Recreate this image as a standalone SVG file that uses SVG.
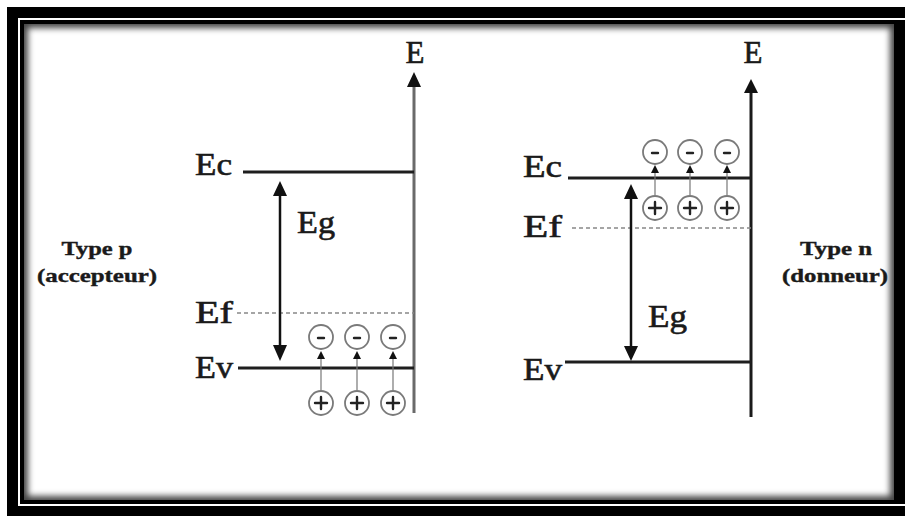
<svg xmlns="http://www.w3.org/2000/svg" width="905" height="516" viewBox="0 0 905 516">
  <style>
    .lbl { font-family: "Liberation Serif", "Times New Roman", serif; font-size: 31px; fill: #1a1a1a; stroke: #1a1a1a; stroke-width: 0.6; }
    .typ { font-family: "Liberation Serif", "Times New Roman", serif; font-size: 19px; font-weight: bold; fill: #1a1a1a; stroke: #1a1a1a; stroke-width: 0.4; }
    .axis { stroke-width: 3; fill: none; }
    .lvl { stroke: #1e1e1e; stroke-width: 3; fill: none; }
    .ef { stroke: #888; stroke-width: 1.5; stroke-dasharray: 4 3; fill: none; }
    .gap { stroke: #111; stroke-width: 2.5; fill: none; }
    .thin { stroke: #777; stroke-width: 1.2; fill: none; }
    .ring { fill: #fff; stroke: #7a7a7a; stroke-width: 1.8; }
    .sign { stroke: #222; stroke-width: 2.4; stroke-linecap: round; fill: none; }
    .head { fill: #111; }
  </style>
  <defs>
    <filter id="blur" x="-5%" y="-5%" width="110%" height="110%">
      <feGaussianBlur stdDeviation="3"/>
    </filter>
    <clipPath id="panel">
      <rect x="24" y="24" width="870" height="476"/>
    </clipPath>
  </defs>

  <!-- frame -->
  <g id="frame">
    <rect x="0" y="0" width="905" height="516" fill="#fff"/>
    <rect x="7" y="7" width="898" height="509" fill="#000"/>
    <rect x="18" y="18" width="900" height="488" fill="#fff"/>
    <rect x="20" y="20" width="885" height="484" fill="#000"/>
    <rect x="24" y="24" width="870" height="476" fill="#444"/>
    <g clip-path="url(#panel)">
      <rect x="28" y="28" width="862" height="468" fill="#fff" filter="url(#blur)"/>
    </g>
  </g>

  <!-- side labels -->
  <g id="type-p">
    <text class="typ" x="97" y="255" text-anchor="middle" textLength="71" lengthAdjust="spacingAndGlyphs">Type p</text>
    <text class="typ" x="97" y="282" text-anchor="middle" textLength="120" lengthAdjust="spacingAndGlyphs">(accepteur)</text>
  </g>
  <g id="type-n">
    <text class="typ" x="836" y="255" text-anchor="middle" textLength="72" lengthAdjust="spacingAndGlyphs">Type n</text>
    <text class="typ" x="835" y="282" text-anchor="middle" textLength="106" lengthAdjust="spacingAndGlyphs">(donneur)</text>
  </g>

  <!-- left diagram (type p) -->
  <g id="p-axis">
    <line class="axis" stroke="#6a6a6a" x1="414" y1="84" x2="414" y2="413"/>
    <polygon class="head" points="414,72 407,87 421,87"/>
    <text class="lbl" x="415" y="63" text-anchor="middle">E</text>
  </g>
  <g id="p-ec">
    <line class="lvl" x1="243" y1="172" x2="414" y2="172"/>
    <text class="lbl" x="195" y="175" textLength="37" lengthAdjust="spacingAndGlyphs">Ec</text>
  </g>
  <g id="p-ef">
    <line class="ef" x1="237" y1="313" x2="414" y2="313"/>
    <text class="lbl" x="195" y="323" textLength="38" lengthAdjust="spacingAndGlyphs">Ef</text>
  </g>
  <g id="p-ev">
    <line class="lvl" x1="238" y1="368" x2="414" y2="368"/>
    <text class="lbl" x="195" y="378" textLength="38" lengthAdjust="spacingAndGlyphs">Ev</text>
  </g>
  <g id="p-eg">
    <text class="lbl" x="297" y="233" textLength="38" lengthAdjust="spacingAndGlyphs">Eg</text>
  </g>

  <g id="p-electrons">
    <circle class="ring" cx="321" cy="337" r="12"/>
    <line class="sign" x1="318" y1="338" x2="324" y2="338"/>
    <circle class="ring" cx="357" cy="337" r="12"/>
    <line class="sign" x1="354" y1="338" x2="360" y2="338"/>
    <circle class="ring" cx="393" cy="337" r="12"/>
    <line class="sign" x1="390" y1="338" x2="396" y2="338"/>
  </g>
  <g id="p-holes">
    <circle class="ring" cx="321" cy="403" r="12"/>
    <line class="sign" x1="315" y1="403" x2="327" y2="403"/>
    <line class="sign" x1="321" y1="397" x2="321" y2="409"/>
    <circle class="ring" cx="357" cy="403" r="12"/>
    <line class="sign" x1="351" y1="403" x2="363" y2="403"/>
    <line class="sign" x1="357" y1="397" x2="357" y2="409"/>
    <circle class="ring" cx="393" cy="403" r="12"/>
    <line class="sign" x1="387" y1="403" x2="399" y2="403"/>
    <line class="sign" x1="393" y1="397" x2="393" y2="409"/>
  </g>

  <!-- right diagram (type n) -->
  <g id="n-axis">
    <line class="axis" stroke="#1a1a1a" x1="751" y1="90" x2="751" y2="417"/>
    <polygon class="head" points="751,79 744,93 758,93"/>
    <text class="lbl" x="753" y="63" text-anchor="middle">E</text>
  </g>
  <g id="n-ec">
    <line class="lvl" stroke-width="4" x1="568" y1="178" x2="751" y2="178"/>
    <text class="lbl" x="523" y="177" textLength="39" lengthAdjust="spacingAndGlyphs">Ec</text>
  </g>
  <g id="n-ef">
    <line class="ef" x1="572" y1="228" x2="751" y2="228"/>
    <text class="lbl" x="523" y="237" textLength="39" lengthAdjust="spacingAndGlyphs">Ef</text>
  </g>
  <g id="n-ev">
    <line class="lvl" x1="565" y1="362" x2="751" y2="362"/>
    <text class="lbl" x="523" y="380" textLength="39" lengthAdjust="spacingAndGlyphs">Ev</text>
  </g>
  <g id="n-eg">
    <text class="lbl" x="648" y="327" textLength="39" lengthAdjust="spacingAndGlyphs">Eg</text>
  </g>

  <g id="n-electrons">
    <circle class="ring" cx="655" cy="152" r="12"/>
    <line class="sign" x1="652" y1="153" x2="658" y2="153"/>
    <circle class="ring" cx="690" cy="152" r="12"/>
    <line class="sign" x1="687" y1="153" x2="693" y2="153"/>
    <circle class="ring" cx="727" cy="152" r="12"/>
    <line class="sign" x1="724" y1="153" x2="730" y2="153"/>
  </g>
  <g id="n-donors">
    <circle class="ring" cx="655" cy="208" r="12"/>
    <line class="sign" x1="649" y1="208" x2="661" y2="208"/>
    <line class="sign" x1="655" y1="202" x2="655" y2="214"/>
    <circle class="ring" cx="690" cy="208" r="12"/>
    <line class="sign" x1="684" y1="208" x2="696" y2="208"/>
    <line class="sign" x1="690" y1="202" x2="690" y2="214"/>
    <circle class="ring" cx="727" cy="208" r="12"/>
    <line class="sign" x1="721" y1="208" x2="733" y2="208"/>
    <line class="sign" x1="727" y1="202" x2="727" y2="214"/>
  </g>

  <!-- connectors -->
  <g id="connectors">
    <line class="gap" x1="280" y1="192" x2="280" y2="350"/>
    <polygon class="head" points="280,181 273,196 287,196"/>
    <polygon class="head" points="280,361 273,345 287,345"/>
    <line class="thin" x1="321" y1="390" x2="321" y2="357"/>
    <polygon class="head" points="321,351 317,359 325,359"/>
    <line class="thin" x1="357" y1="390" x2="357" y2="357"/>
    <polygon class="head" points="357,351 353,359 361,359"/>
    <line class="thin" x1="393" y1="390" x2="393" y2="357"/>
    <polygon class="head" points="393,351 389,359 397,359"/>
    <line class="gap" x1="631" y1="195" x2="631" y2="350"/>
    <polygon class="head" points="631,184 624,199 638,199"/>
    <polygon class="head" points="631,361 624,346 638,346"/>
    <line class="thin" x1="655" y1="195" x2="655" y2="171"/>
    <polygon class="head" points="655,165 651,173 659,173"/>
    <line class="thin" x1="690" y1="195" x2="690" y2="171"/>
    <polygon class="head" points="690,165 686,173 694,173"/>
    <line class="thin" x1="727" y1="195" x2="727" y2="171"/>
    <polygon class="head" points="727,165 723,173 731,173"/>
  </g>
</svg>
